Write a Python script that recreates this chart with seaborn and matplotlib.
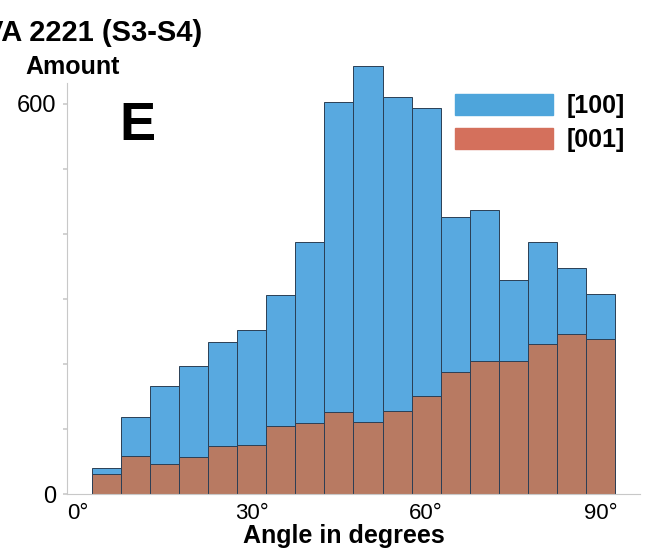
import numpy as np
import pandas as pd
import matplotlib
matplotlib.use("Agg")
import matplotlib.pyplot as plt
import matplotlib.patches as mpatches
import seaborn as sns

# bin centres (degrees) and counts
angle_centres = [5, 10, 15, 20, 25, 30, 35, 40, 45, 50, 55, 60, 65, 70, 75, 80, 85, 90]
counts_100 = [40, 118, 166, 197, 234, 252, 306, 388, 603, 658, 610, 594, 426, 437, 329, 388, 348, 308]
counts_001 = [31, 58, 46, 57, 74, 75, 105, 109, 126, 111, 128, 151, 188, 205, 205, 231, 246, 238]
series_labels = ["[100]", "[001]"]
x_ticks = [0, 30, 60, 90]
x_tick_labels = ["0°", "30°", "60°", "90°"]

sns.set_theme(style="white")
plt.rcParams["font.family"] = ["Liberation Sans", "DejaVu Sans"]
plt.rcParams["text.color"] = "black"

BLUE = "#58a9e0"
BLUE_LEG = "#4ea5db"
ORANGE = "#b87a62"
ORANGE_LEG = "#d4705c"
EDGE = "#2b3f55"

df = pd.DataFrame({"angle": angle_centres, "n100": counts_100, "n001": counts_001})

fig = plt.figure(figsize=(6.46, 5.56), dpi=100)
ax = fig.add_axes([0.1037, 0.1115, 0.887, 0.795])

sns.histplot(data=df, x="angle", weights="n100", binwidth=5, binrange=(2.5, 92.5),
             color=BLUE, alpha=1, edgecolor=EDGE, linewidth=0.7, ax=ax)
sns.histplot(data=df, x="angle", weights="n001", binwidth=5, binrange=(2.5, 92.5),
             color=ORANGE, alpha=1, edgecolor=EDGE, linewidth=0.7, ax=ax)

ax.set_xlim(-1.8, 96.8)
ax.set_ylim(0, 680)
ax.set_xticks(x_ticks)
ax.set_xticklabels(x_tick_labels, fontsize=16)
ax.set_yticks(np.arange(0, 601, 100))
ax.set_yticklabels(["0", "", "", "", "", "", "600"], fontsize=17)
ax.tick_params(axis="y", length=3, color="#cccccc", pad=5, left=True, labelcolor="black")
ax.tick_params(axis="x", length=0, pad=6.5, labelcolor="black")
ax.set_xlabel("")
ax.set_ylabel("")
fig.text(0.533, 1 - 543 / 556, "Angle in degrees", fontsize=18, fontweight="bold",
         ha="center", va="baseline")

for side in ["top", "right"]:
    ax.spines[side].set_visible(False)
for side in ["left", "bottom"]:
    ax.spines[side].set_color("#c8c8c8")
    ax.spines[side].set_linewidth(0.8)
ax.spines["left"].set_bounds(0, 632)

handles = [mpatches.Patch(color=BLUE_LEG), mpatches.Patch(color=ORANGE_LEG)]
ax.legend(handles, series_labels, loc="upper left", bbox_to_anchor=(455 / 646, 1 - 94 / 556),
          bbox_transform=fig.transFigure, borderpad=0, borderaxespad=0,
          frameon=False, prop={"size": 18, "weight": "bold"},
          handlelength=3.9, handleheight=0.92, handletextpad=0.55, labelspacing=0.4)

ax.text(0.091, 0.889, "E", transform=ax.transAxes, fontsize=39, fontweight="bold",
        va="top", ha="left")
fig.text(-0.025, 0.94, "VA 2221 (S3-S4)", fontsize=21, fontweight="bold", va="center", ha="left")
fig.text(0.039, 0.88, "Amount", fontsize=18, fontweight="bold", va="center", ha="left")

fig.savefig("out.png", dpi=100)
